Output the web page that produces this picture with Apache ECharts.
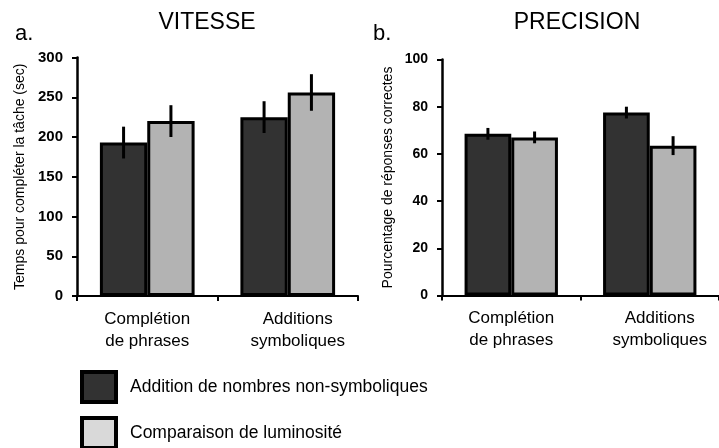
<!DOCTYPE html>
<html>
<head>
<meta charset="utf-8">
<script src="https://cdn.jsdelivr.net/npm/echarts@6/dist/echarts.min.js"></script>
<style>
  html, body { margin: 0; padding: 0; background: #fff; }
  #chart { width: 719px; height: 448px; }
</style>
</head>
<body>
<div id="chart"></div>
<script>
// values
const categories = ["Complétion\nde phrases", "Additions\nsymboliques"];
const seriesNames = ["Addition de nombres non-symboliques", "Comparaison de luminosité"];

const vitesseNonSymb = [193, 225];
const vitesseNonSymbErr = [20, 20];
const vitesseLum = [220, 256];
const vitesseLumErr = [20, 23];

const precisionNonSymb = [68.5, 77.5];
const precisionNonSymbErr = [2.5, 2.5];
const precisionLum = [67, 63.5];
const precisionLumErr = [2.5, 4];

const vitesseTicks = { min: 0, max: 300, interval: 50 };
const precisionTicks = { min: 0, max: 100, interval: 20 };

const FONT = "Liberation Sans, Arial, sans-serif";
const DARK = "#323232";
const LIGHT = "#b3b3b3";
const BAR_FRAC = 0.337; // bar width as share of category band

function errData(vals, errs) {
  return vals.map((v, i) => [i, v - errs[i], v + errs[i]]);
}

function errSeries(idx, vals, errs, side) {
  return {
    type: "custom",
    xAxisIndex: idx,
    yAxisIndex: idx,
    z: 5,
    silent: true,
    data: errData(vals, errs),
    renderItem: (params, api) => {
      const i = api.value(0);
      const lo = api.coord([i, api.value(1)]);
      const hi = api.coord([i, api.value(2)]);
      const band = api.size([1, 0])[0];
      const x = lo[0] + side * band * BAR_FRAC / 2;
      return {
        type: "line",
        shape: { x1: x, y1: lo[1], x2: x, y2: hi[1] },
        style: { stroke: "#000", lineWidth: 3 },
      };
    },
  };
}

function barSeries(idx, name, vals, color) {
  return {
    type: "bar",
    name,
    xAxisIndex: idx,
    yAxisIndex: idx,
    data: vals,
    barWidth: (BAR_FRAC * 100) + "%",
    barGap: "0%",
    itemStyle: { color, borderColor: "#000", borderWidth: 3 },
  };
}

function xAxis(idx) {
  return {
    type: "category",
    gridIndex: idx,
    // second label sits a little right of its bars in the original
    data: categories.map((c, i) => (i === 1 ? { value: c, textStyle: { padding: [0, 0, 0, 20] } } : c)),
    axisLine: { lineStyle: { color: "#000", width: 2 } },
    axisTick: { show: true, length: 5, lineStyle: { color: "#000", width: 2 } },
    axisLabel: { color: "#000", fontFamily: FONT, fontSize: 17, lineHeight: 22, margin: 12 },
    splitLine: { show: false },
  };
}

function yAxis(idx, ticks, name, gap, labelSize) {
  return {
    type: "value",
    gridIndex: idx,
    min: ticks.min,
    max: ticks.max,
    interval: ticks.interval,
    name,
    nameLocation: "middle",
    nameGap: gap,
    nameTextStyle: { color: "#000", fontFamily: FONT, fontSize: 14 },
    axisLine: { show: true, lineStyle: { color: "#000", width: 2.5 } },
    axisTick: { show: true, length: 5, lineStyle: { color: "#000", width: 2 } },
    axisLabel: { color: "#000", fontFamily: FONT, fontSize: labelSize, fontWeight: "bold", margin: 14 },
    splitLine: { show: false },
  };
}

function legend(top, name, color) {
  return {
    orient: "vertical",
    left: 80,
    top,
    padding: 0,
    itemWidth: 34,
    itemHeight: 30,
    icon: "rect",
    selectedMode: false,
    textStyle: { fontFamily: FONT, fontSize: 17.5, color: "#000", padding: [0, 0, 0, 9] },
    data: [{ name, itemStyle: { color, borderColor: "#000", borderWidth: 4 } }],
  };
}

const titleStyle = { fontFamily: FONT, fontSize: 23, fontWeight: "normal", color: "#000" };
const letterStyle = { fontFamily: FONT, fontSize: 22, fontWeight: "normal", color: "#000" };

const option = {
  animation: false,
  backgroundColor: "#fff",
  title: [
    { text: "VITESSE", left: 207, top: 11, padding: 0, textAlign: "center", textStyle: titleStyle },
    { text: "PRECISION", left: 577, top: 11, padding: 0, textAlign: "center", textStyle: titleStyle },
    { text: "a.", left: 15, top: 23, padding: 0, textStyle: letterStyle },
    { text: "b.", left: 373, top: 23, padding: 0, textStyle: letterStyle },
  ],
  legend: [
    legend(370, seriesNames[0], DARK),
    legend(416, seriesNames[1], "#d9d9d9"),
  ],
  grid: [
    { left: 77, width: 281, top: 57.5, height: 238.5 },
    { left: 442, width: 282, top: 59.5, height: 236 },
  ],
  xAxis: [xAxis(0), xAxis(1)],
  yAxis: [
    yAxis(0, vitesseTicks, "Temps pour compléter la tâche (sec)", 50, 15),
    yAxis(1, precisionTicks, "Pourcentage de réponses correctes", 47, 14),
  ],
  series: [
    barSeries(0, seriesNames[0], vitesseNonSymb, DARK),
    barSeries(0, seriesNames[1], vitesseLum, LIGHT),
    barSeries(1, seriesNames[0], precisionNonSymb, DARK),
    barSeries(1, seriesNames[1], precisionLum, LIGHT),
    errSeries(0, vitesseNonSymb, vitesseNonSymbErr, -1),
    errSeries(0, vitesseLum, vitesseLumErr, 1),
    errSeries(1, precisionNonSymb, precisionNonSymbErr, -1),
    errSeries(1, precisionLum, precisionLumErr, 1),
  ],
};

const chart = echarts.init(document.getElementById("chart"), null, { renderer: "canvas" });
chart.setOption(option);
</script>
</body>
</html>
